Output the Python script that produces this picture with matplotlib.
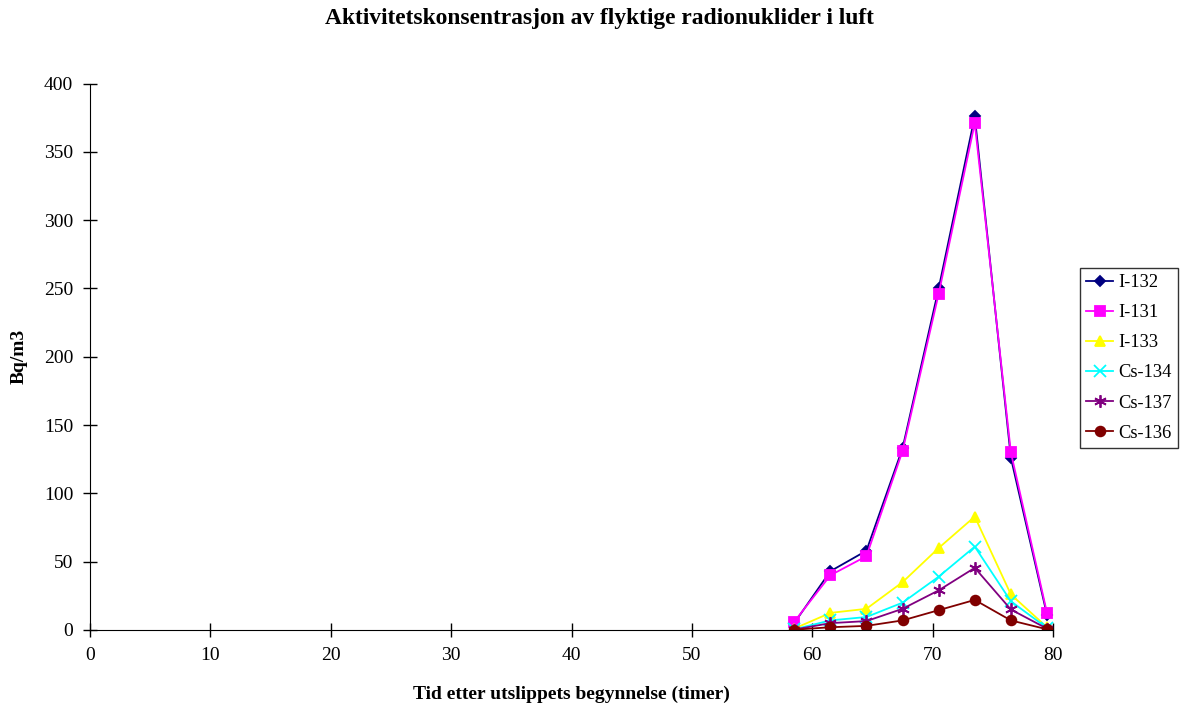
import matplotlib.pyplot as plt

plt.rcParams['font.family'] = ['Liberation Serif', 'DejaVu Serif']

# Time after release start (hours)
t = [58.5, 61.5, 64.5, 67.5, 70.5, 73.5, 76.5, 79.5]

# Activity concentrations (Bq/m3)
i132 = [5, 43, 58, 133, 250, 376, 126, 11]
i131 = [6, 40, 54, 131, 246, 371, 130, 12.5]
i133 = [1, 12.5, 15.5, 35, 60, 83, 26, 2]
cs134 = [0.5, 7, 9.5, 20, 39, 61, 21, 1.5]
cs137 = [0.3, 5, 6.5, 15.5, 29, 45.5, 15, 1]
cs136 = [0.2, 2, 3, 7, 14.5, 22, 7, 0.5]

series = [
    ('I-132', i132, '#000080', 'D', 5),
    ('I-131', i131, '#FF00FF', 's', 7),
    ('I-133', i133, '#FFFF00', '^', 7),
    ('Cs-134', cs134, '#00FFFF', 'x', 8),
    ('Cs-137', cs137, '#800080', (6, 2, 0), 9),
    ('Cs-136', cs136, '#800000', 'o', 7),
]

fig = plt.figure(figsize=(11.92, 7.08), dpi=100)
ax = fig.add_axes([0.0755, 0.1102, 0.8079, 0.7718])

for name, vals, col, mk, ms in series:
    ax.plot(t, vals, color=col, marker=mk, markersize=ms, linewidth=1.3,
            markeredgecolor=col, markerfacecolor=col, markeredgewidth=1.3,
            label=name)

ax.set_xlim(0, 80)
ax.set_ylim(0, 400)
ax.set_xticks(range(0, 81, 10))
ax.set_yticks(range(0, 401, 50))
ax.spines['top'].set_visible(False)
ax.spines['right'].set_visible(False)
ax.tick_params(direction='inout', length=10, width=1, labelsize=14, pad=7)

fig.text(0.5025, 0.974, 'Aktivitetskonsentrasjon av flyktige radionuklider i luft',
         fontsize=16.9, fontweight='bold', ha='center', va='center')
ax.set_xlabel('Tid etter utslippets begynnelse (timer)', fontsize=14,
              fontweight='bold', labelpad=16)
ax.set_ylabel('Bq/m3', fontsize=14, fontweight='bold', labelpad=12)

leg = ax.legend(loc='center left', bbox_to_anchor=(1.028, 0.498), fontsize=13.3,
                frameon=True, fancybox=False, edgecolor='black',
                borderaxespad=0, borderpad=0.35, labelspacing=0.71,
                handlelength=1.45, handletextpad=0.27)
leg.get_frame().set_linewidth(1)

fig.savefig('out.png', dpi=100)
